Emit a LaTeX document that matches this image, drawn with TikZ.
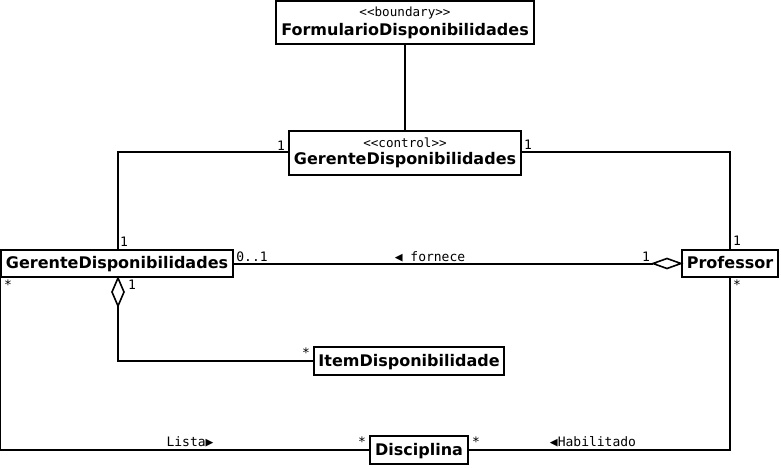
\documentclass[tikz,border=0pt]{standalone}
\usepackage{fontspec}
\setmainfont{DejaVu Sans}
\newfontfamily\lblfont{DejaVu Sans Mono}
\usetikzlibrary{calc}
\begin{document}
\begin{tikzpicture}[x=1pt,y=-1pt,
  cls/.style={draw,line width=2pt,inner sep=0pt,text height=12pt,text depth=1.5pt,font=\fontsize{16}{18}\selectfont\bfseries},
  nm/.style={font=\fontsize{16}{18}\selectfont\bfseries,inner sep=0pt},
  conn/.style={line width=2pt},
  lbl/.style={font=\lblfont\fontsize{13}{14}\selectfont,inner sep=0pt},
  stereo/.style={font=\lblfont\fontsize{12.6}{14}\selectfont,inner sep=0pt}]
\useasboundingbox (0,0) rectangle (781,468);
% boxes
\node[draw,line width=2pt,inner sep=0pt,minimum width=258pt,minimum height=43pt] (form) at (405,22.5) {};
\node[stereo] (formst) at (405,13) {<<boundary>>};
\node[nm] (formname) at (405,31) {FormularioDisponibilidades};
\node[draw,line width=2pt,inner sep=0pt,minimum width=232pt,minimum height=44pt] (ctrl) at (405,153) {};
\node[stereo] (ctrlst) at (405,143) {<<control>>};
\node[nm] (ctrlname) at (405,160.5) {GerenteDisponibilidades};
\node[cls,minimum width=232pt,minimum height=27pt] (gd) at (117,263.5) {GerenteDisponibilidades};
\node[cls,minimum width=96pt,minimum height=27pt] (prof) at (730,263.5) {Professor};
\node[cls,minimum width=190pt,minimum height=28pt] (item) at (409,361) {ItemDisponibilidade};
\node[cls,minimum width=98pt,minimum height=28pt] (disc) at (419,450) {Disciplina};
% coordinates
\coordinate (cl) at (ctrl.west|-0,152);
\coordinate (cr) at (ctrl.east|-0,152);
\coordinate (gdt) at (118,0|-gd.north);
\coordinate (gdb) at (118,0|-gd.south);
\coordinate (gdbl) at (gd.south west);
\coordinate (pt) at (730,0|-prof.north);
\coordinate (pb) at (730,0|-prof.south);
% connectors
\draw[conn] (form.south) -- (ctrl.north);
\draw[conn] (cl) -| (gdt);
\draw[conn] (cr) -| (pt);
% fornece with diamond at professor
\coordinate (dp) at ($(prof.west)+(-28,0)$);
\draw[conn] (gd.east) -- (dp);
\draw[line width=1.6pt,fill=white] (prof.west) -- ++(-14,-5) -- (dp) -- ++(14,5) -- ++(14,-5) -- cycle;
% aggregation item
\coordinate (dg) at ($(gdb)+(0,28)$);
\draw[conn] (dg) |- (item.west);
\draw[line width=1.6pt,fill=white] (gdb) -- ++(-6,14) -- (dg) -- ++(6,-14) -- cycle;
% lista
\draw[conn] (gdbl) |- (disc.west);
\draw[conn] (pb) |- (disc.east);
% labels
\node[lbl] (l1) at (281,146) {1};
\node[lbl] (l2) at (124,242) {1};
\node[lbl] (l3) at (528,145) {1};
\node[lbl] (l4) at (737,241) {1};
\node[lbl] (l5) at (252,257) {0..1};
\node[lbl] (l6) at (646,257) {1};
\node[lbl] (l7) at (430,257) {◀ fornece};
\node[lbl] (l8) at (132,285) {1};
\node[lbl] (l9) at (306,353) {*};
\node[lbl] (l10) at (8,285) {*};
\node[lbl] (l11) at (190,442) {Lista▶};
\node[lbl] (l12) at (362,442) {*};
\node[lbl] (l13) at (737,285) {*};
\node[lbl] (l14) at (476,442) {*};
\node[lbl] (l15) at (593,442) {◀Habilitado};
\end{tikzpicture}
\end{document}
